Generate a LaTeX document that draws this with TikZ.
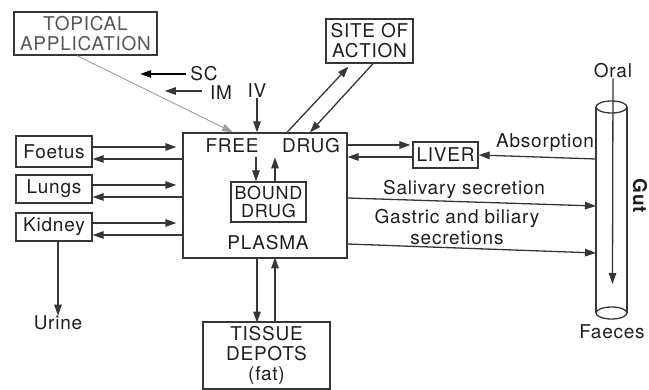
\documentclass[tikz,border=0pt]{standalone}
\usepackage{fontspec}
\setmainfont{TeX Gyre Heros}[LetterSpace=4]
\usetikzlibrary{arrows.meta,calc}
\definecolor{ink}{HTML}{1E1E1E}
\definecolor{lineink}{HTML}{363636}
\begin{document}
\begin{tikzpicture}[x=1pt,y=-1pt,
  every node/.style={font=\fontsize{19}{20}\selectfont, text=ink, inner sep=0pt, align=center},
  box/.style={draw=lineink, line width=1.3pt},
  arr/.style={draw=lineink, line width=1.3pt, -{Triangle[length=11pt,width=7.5pt]}},
]
\useasboundingbox (0,0) rectangle (649,390);

% boxes
\node[box, minimum width=143pt, minimum height=43pt, text=ink!75] (topical) at (85.5,33.5) {TOPICAL\\APPLICATION};
\node[box, minimum width=87pt, minimum height=44pt] (site) at (369.5,41) {SITE OF\\ACTION};
\node[box, minimum width=164pt, minimum height=125pt] (plasma) at (265,195.5) {};
\node (free) at (232,146) {FREE};
\node (drug) at (311,146) {DRUG};
\node[box, minimum width=75pt, minimum height=40pt, font=\fontsize{18}{18}\selectfont] (bound) at (268.5,202) {BOUND\\DRUG};
\node (plasmalbl) at (268,243) {PLASMA};
\node[box, minimum width=76pt, minimum height=31pt] (foetus) at (54,151.5) {Foetus};
\node[box, minimum width=76pt, minimum height=28pt] (lungs) at (54,189) {Lungs};
\node[box, minimum width=76pt, minimum height=28pt] (kidney) at (54,227) {Kidney};
\node (urine) at (58,323) {Urine};
\node[box, minimum width=65pt, minimum height=26pt] (liver) at (445.5,155) {LIVER};
\node[box, minimum width=127pt, minimum height=67pt] (tissue) at (266.5,355.5) {TISSUE\\DEPOTS\\(fat)};
\node (oral) at (613,71) {Oral};
\node (faeces) at (612,332) {Faeces};
\node[rotate=-90, font=\bfseries\fontsize{19}{20}\selectfont] (gut) at (640,196) {Gut};
\node (sc) at (204,74) {SC};
\node (im) at (221,93) {IM};
\node (iv) at (257,91) {IV};
\node (absorb) at (545,143) {Absorption};
\node (saliv) at (464,189) {Salivary secretion};
\node[font=\fontsize{19}{21}\selectfont] (gastric) at (457,227) {Gastric and biliary\\secretions};

% gut cylinder
\coordinate (gtop) at (611.5,107);
\coordinate (gbot) at (611.5,313);
\draw[box] (596,107) -- (596,313) (627,107) -- (627,313);
\draw[box] (gtop) ellipse [x radius=15.5pt, y radius=6pt];
\draw[box] (gbot) ellipse [x radius=15.5pt, y radius=6pt];
\coordinate (gutEnd) at (612.5,284);
\coordinate (absR) at (596,159);
\coordinate (salR) at (596,206);
\coordinate (gasR) at (596,253);

% entry routes
\draw[arr, draw=gray!75, line width=0.9pt] ([xshift=-8.5pt]topical.south) -- ($(plasma.north)+(-32pt,0)$);
\draw[arr, draw=black] ($(sc.west)+(-4pt,0)$) -- ++(-46,0);
\draw[arr] ($(im.west)+(-8pt,2pt)$) -- ++(-37,0);
\draw[arr] (iv.south) -- (iv.south |- plasma.north);

% site of action
\draw[arr] ($(plasma.north)+(22pt,0)$) -- ($(site.south)+(-21pt,-3pt)$);
\draw[arr] ($(site.south)+(3.5pt,0)$) -- ($(plasma.north)+(45pt,0)$);

% free / bound
\draw[arr] ($(bound.north)+(-12.5pt,24pt)$) -- ($(bound.north)+(-12.5pt,0)$);
\draw[arr] ($(bound.north)+(6.5pt,0)$) -- ($(bound.north)+(6.5pt,24pt)$);

% organs
\draw[arr] ($(foetus.east)+(0,4.5pt)$) -- ($(foetus.east -| plasma.west)+(-6pt,4.5pt)$);
\draw[arr] ($(foetus.east -| plasma.west)+(0,-7.5pt)$) -- ($(foetus.east)+(0,-7.5pt)$);
\draw[arr] ($(lungs.east)+(0,4pt)$) -- ($(lungs.east -| plasma.west)+(-6pt,4pt)$);
\draw[arr] ($(lungs.east -| plasma.west)+(0,-8pt)$) -- ($(lungs.east)+(0,-8pt)$);
\draw[arr] ($(kidney.east)+(0,4pt)$) -- ($(kidney.east -| plasma.west)+(-6pt,4pt)$);
\draw[arr] ($(kidney.east -| plasma.west)+(0,-8pt)$) -- ($(kidney.east)+(0,-8pt)$);
\draw[arr] ($(kidney.south)+(4pt,0)$) -- (urine.north);

% liver and gut
\draw[arr] ($(liver.west -| plasma.east)+(0,10pt)$) -- ($(liver.west)+(-2pt,10pt)$);
\draw[arr] ($(liver.west)+(0,-2pt)$) -- ($(liver.west -| plasma.east)+(0,-2pt)$);
\draw[arr] (absR) -- (liver.east);
\draw[arr] ($(plasma.east)+(0,-2.5pt)$) -- (salR);
\draw[arr] ($(plasma.east)+(0,-48.5pt)$) -- (gasR);
\draw[arr] (oral.south) -- (gutEnd);

% tissue depots
\draw[arr] ($(plasma.south)+(-8pt,0)$) -- ++(0,64);
\draw[arr] ($(tissue.north)+(8.5pt,0)$) -- ++(0,-64);
\end{tikzpicture}
\end{document}
